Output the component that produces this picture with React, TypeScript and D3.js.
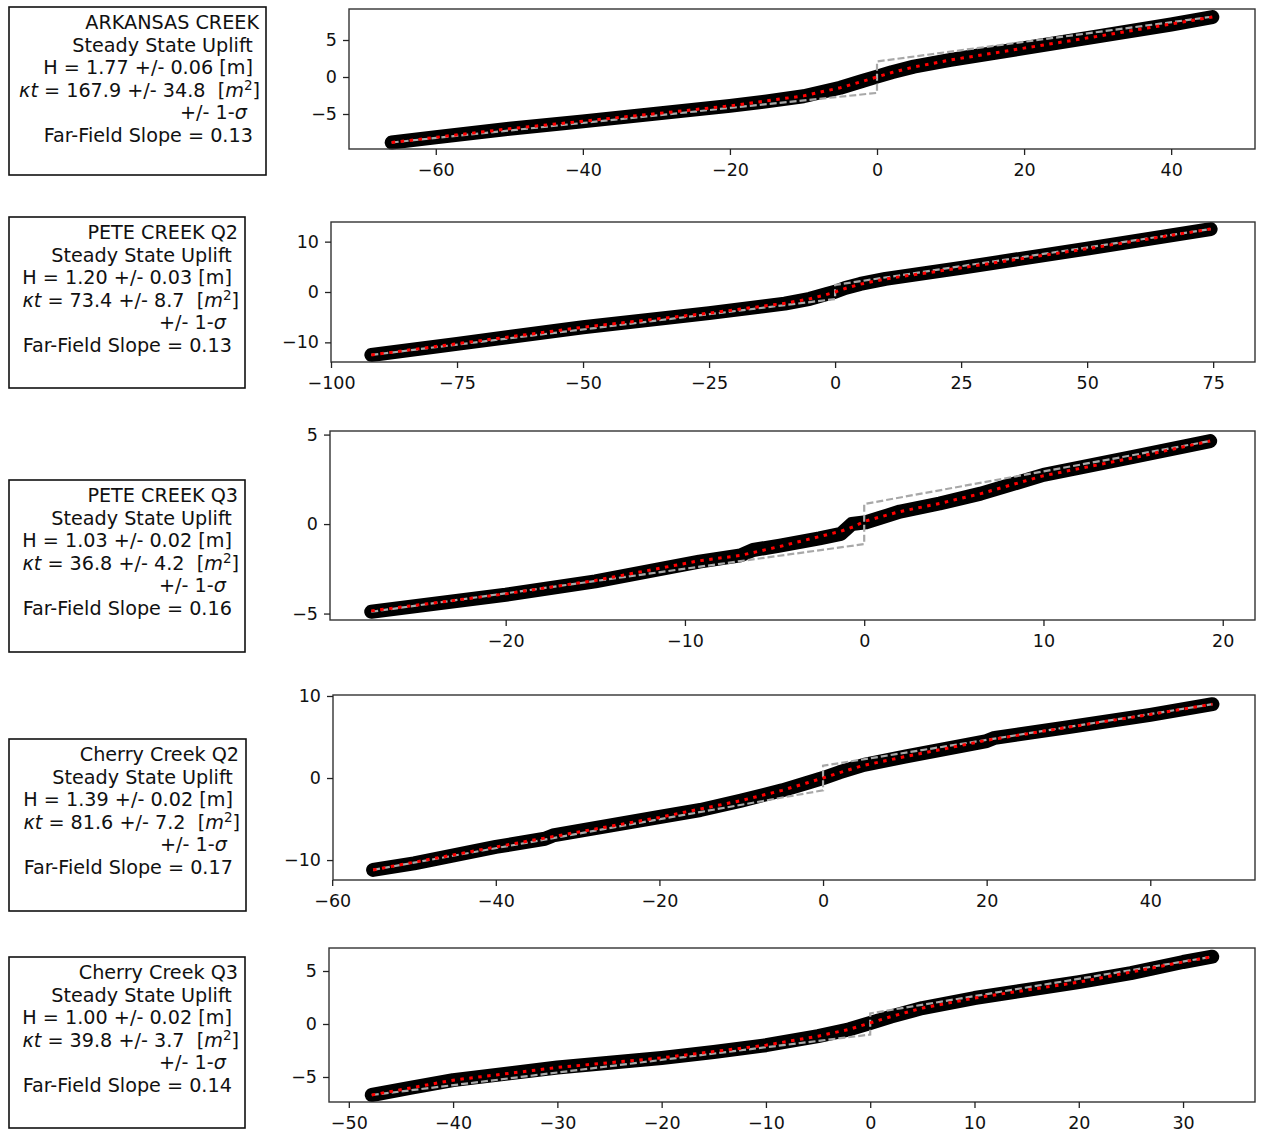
import * as d3 from 'd3';
import React, { useEffect, useRef } from 'react';

// fit summary for each site
const siteNames = ['ARKANSAS CREEK', 'PETE CREEK Q2', 'PETE CREEK Q3', 'Cherry Creek Q2', 'Cherry Creek Q3'];
const hValues = [1.77, 1.20, 1.03, 1.39, 1.00];
const hErrors = [0.06, 0.03, 0.02, 0.02, 0.02];
const ktValues = [167.9, 73.4, 36.8, 81.6, 39.8];
const ktErrors = [34.8, 8.7, 4.2, 7.2, 3.7];
const farFieldSlopes = [0.13, 0.13, 0.16, 0.17, 0.14];

const xDomains = [[-71.8, 51.4], [-100, 83.3], [-29.8, 21.8], [-59.9, 52.8], [-51.9, 36.9]];
const yDomains = [[-9.73, 9.19], [-13.9, 13.9], [-5.36, 5.2], [-12.43, 10.12], [-7.36, 7.17]];
const xTicks = [
    [-60, -40, -20, 0, 20, 40],
    [-100, -75, -50, -25, 0, 25, 50, 75],
    [-20, -10, 0, 10, 20],
    [-60, -40, -20, 0, 20, 40],
    [-50, -40, -30, -20, -10, 0, 10, 20, 30],
];
const yTicks = [[-5, 0, 5], [-10, 0, 10], [-5, 0, 5], [-10, 0, 10], [-5, 0, 5]];

// measured profiles (distance, elevation)
const profiles = [
    [[-66, -8.85], [-60, -8.15], [-50, -7.0], [-40, -6.0], [-30, -4.95], [-20, -3.9], [-15, -3.3], [-10, -2.6], [-5, -1.45], [-2, -0.55], [0, 0.05], [2, 0.65], [5, 1.4], [10, 2.3], [20, 3.9], [30, 5.5], [40, 7.1], [45.6, 8.1]],
    [[-92, -12.5], [-75, -10.3], [-50, -7.0], [-25, -4.2], [-10, -2.3], [-5, -1.35], [-2, -0.5], [0, 0.05], [2, 0.8], [5, 1.6], [10, 2.6], [25, 4.8], [50, 8.6], [74.5, 12.5]],
    [[-27.5, -4.9], [-20, -3.95], [-15, -3.2], [-9.2, -2.1], [-6.9, -1.75], [-6.2, -1.45], [-4.7, -1.2], [-2.5, -0.8], [-1.3, -0.55], [-0.7, 0.0], [0.1, 0.1], [0.9, 0.35], [2, 0.7], [4.2, 1.15], [6.5, 1.7], [10, 2.75], [15, 3.75], [19.3, 4.64]],
    [[-55, -11.2], [-50, -10.4], [-40, -8.4], [-34, -7.4], [-33, -7.0], [-20, -4.75], [-15, -3.9], [-10, -2.75], [-5, -1.5], [-2, -0.6], [0, 0], [2, 0.7], [5, 1.6], [10, 2.6], [20, 4.5], [21, 4.9], [30, 6.2], [40, 7.7], [47.6, 9.0]],
    [[-47.8, -6.7], [-44, -6.0], [-40, -5.3], [-30, -4.1], [-25, -3.65], [-20, -3.2], [-15, -2.65], [-10, -2.0], [-5, -1.15], [-2, -0.5], [0, 0.1], [2, 0.7], [5, 1.5], [10, 2.45], [20, 3.95], [25, 4.8], [30, 5.85], [32.8, 6.35]],
];

// best-fit diffusion profiles
const fits = [
    [[-66, -8.85], [-50, -7.0], [-30, -4.95], [-20, -3.9], [-10, -2.55], [-5, -1.45], [-2, -0.6], [0, 0], [2, 0.6], [5, 1.35], [10, 2.3], [20, 3.9], [30, 5.5], [45.6, 8.1]],
    [[-92, -12.5], [-50, -7.0], [-25, -4.2], [-10, -2.25], [-5, -1.35], [-2, -0.6], [0, 0], [2, 0.7], [5, 1.55], [10, 2.6], [25, 4.8], [50, 8.6], [74.5, 12.5]],
    [[-27.5, -4.85], [-20, -3.9], [-15, -3.15], [-9.2, -2.05], [-6.9, -1.75], [-4.7, -1.25], [-2.5, -0.7], [-1.3, -0.4], [-0.6, -0.15], [0, 0.15], [0.9, 0.4], [2, 0.7], [4.2, 1.15], [6.5, 1.7], [10, 2.7], [15, 3.7], [19.3, 4.64]],
    [[-55, -11.2], [-40, -8.4], [-30, -6.6], [-20, -4.8], [-10, -2.75], [-5, -1.5], [-2, -0.6], [0, 0], [2, 0.65], [5, 1.55], [10, 2.6], [20, 4.6], [30, 6.2], [40, 7.75], [47.6, 9.0]],
    [[-47.8, -6.7], [-40, -5.3], [-30, -4.1], [-20, -3.2], [-10, -2.0], [-5, -1.15], [-2, -0.5], [0, 0.1], [2, 0.7], [5, 1.5], [10, 2.45], [20, 3.95], [30, 5.85], [32.8, 6.35]],
];

// initial (undegraded) scarp
const initialScarps = [
    [[-66, -8.85], [0, -2.15], [0, 2.1], [45.6, 8.15]],
    [[-92, -12.5], [0, -1.4], [0, 1.4], [74.5, 12.5]],
    [[-27.5, -4.9], [0, -1.12], [0, 1.12], [19.3, 4.64]],
    [[-55, -11.2], [0, -1.5], [0, 1.5], [47.6, 9.0]],
    [[-47.8, -6.7], [0, -1.0], [0, 1.0], [32.8, 6.35]],
];

// layout: axes frames [left, top, right, bottom] and text boxes
const frames = [[349, 9, 1255, 149], [331, 222, 1255, 362], [330, 431, 1255, 620], [333, 695, 1255, 880], [329, 948, 1255, 1102]];
const boxTops = [7, 217, 480, 739, 957];
const boxRights = [266, 245, 245, 246, 245];
const boxHeights = [168, 171, 172, 172, 171];

const FONT = '"DejaVu Sans", Verdana, sans-serif';
const NB = '\u00A0';

export default function App() {
    const ref = useRef<any>();

    useEffect(() => {
        const svg = d3.select<any, any>(ref.current);
        svg.selectAll('*').remove();
        svg.append('rect').attr('width', 1262).attr('height', 1135).attr('fill', '#fff');

        siteNames.forEach((name, i) => {
            const [l, t, r, b] = frames[i];
            const xScale = d3.scaleLinear().domain(xDomains[i]).range([l, r]);
            const yScale = d3.scaleLinear().domain(yDomains[i]).range([b, t]);
            const line = d3.line<any>().x((d) => xScale(d[0])).y((d) => yScale(d[1]));

            const panel = svg.append('g').attr('class', `panel-${i}`);

            // data band (dense circle markers)
            panel.append('path')
                .attr('d', line(profiles[i]))
                .attr('fill', 'none')
                .attr('stroke', '#000')
                .attr('stroke-width', 14)
                .attr('stroke-linecap', 'round')
                .attr('stroke-linejoin', 'round');

            panel.append('path')
                .attr('d', line(initialScarps[i]))
                .attr('fill', 'none')
                .attr('stroke', '#a8a8a8')
                .attr('stroke-width', 2.2)
                .attr('stroke-dasharray', '7,3');

            panel.append('path')
                .attr('d', line(fits[i]))
                .attr('fill', 'none')
                .attr('stroke', '#ff0000')
                .attr('stroke-width', 3)
                .attr('stroke-dasharray', '3.5,5.5');

            // frame
            panel.append('rect')
                .attr('x', l).attr('y', t)
                .attr('width', r - l).attr('height', b - t)
                .attr('fill', 'none')
                .attr('stroke', '#333')
                .attr('stroke-width', 1.4);

            const fmt = d3.format('d');
            const xAxis = panel.append('g')
                .attr('transform', `translate(0, ${b})`)
                .call(d3.axisBottom(xScale).tickValues(xTicks[i]).tickFormat(fmt as any).tickSize(6).tickSizeOuter(0).tickPadding(9));
            const yAxis = panel.append('g')
                .attr('transform', `translate(${l}, 0)`)
                .call(d3.axisLeft(yScale).tickValues(yTicks[i]).tickFormat(fmt as any).tickSize(6).tickSizeOuter(0).tickPadding(6));

            [xAxis, yAxis].forEach((ax) => {
                ax.select('.domain').remove();
                ax.attr('font-family', FONT).attr('font-size', 17.5);
                ax.selectAll('line').attr('stroke', '#222').attr('stroke-width', 1.3);
                ax.selectAll('text').attr('fill', '#111');
            });

            // text box
            const top = boxTops[i];
            const right = boxRights[i];
            panel.append('rect')
                .attr('x', 9).attr('y', top)
                .attr('width', right - 9).attr('height', boxHeights[i])
                .attr('fill', '#fff')
                .attr('stroke', '#111')
                .attr('stroke-width', 1.6);

            const tx = right - 7;
            const base = top + 22;
            const step = 22.6;
            const label = panel.append('g')
                .attr('font-family', FONT)
                .attr('font-size', 19.2)
                .attr('fill', '#111')
                .attr('text-anchor', 'end');

            label.append('text').attr('x', tx).attr('y', base).text(name);
            label.append('text').attr('x', tx).attr('y', base + step).text('Steady State Uplift' + NB);
            label.append('text').attr('x', tx).attr('y', base + step * 2)
                .text(`H = ${hValues[i].toFixed(2)} +/- ${hErrors[i].toFixed(2)} [m]` + NB);

            const kt = label.append('text').attr('x', tx + 1).attr('y', base + step * 3);
            kt.append('tspan').attr('font-style', 'italic').text('\u03BAt');
            kt.append('tspan').text(` = ${ktValues[i].toFixed(1)} +/- ${ktErrors[i].toFixed(1)}${NB}${NB}[`);
            kt.append('tspan').attr('font-style', 'italic').text('m');
            kt.append('tspan').attr('font-size', 13.5).attr('dy', -7).text('2');
            kt.append('tspan').attr('dy', 7).text(']');

            const sig = label.append('text').attr('x', tx).attr('y', base + step * 4);
            sig.append('tspan').text('+/- 1-');
            sig.append('tspan').attr('font-style', 'italic').text('\u03C3' + NB + NB);

            label.append('text').attr('x', tx).attr('y', base + step * 5)
                .text(`Far-Field Slope = ${farFieldSlopes[i].toFixed(2)}` + NB);
        });
    });

    return (
        <React.Fragment>
            <svg ref={ref} width={1262} height={1135} style={{ position: 'absolute', left: 0, top: 0 }}></svg>
        </React.Fragment>
    );
}
